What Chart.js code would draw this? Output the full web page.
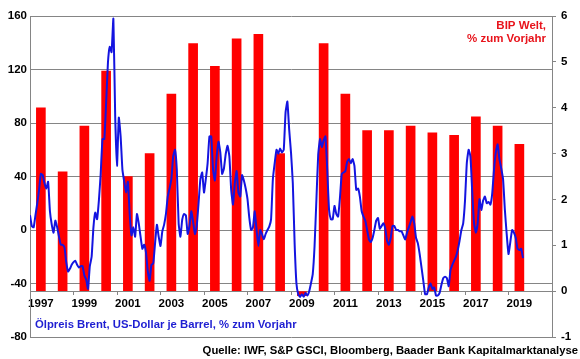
<!DOCTYPE html>
<html>
<head>
<meta charset="utf-8">
<script src="https://cdn.jsdelivr.net/npm/chart.js@4.4.1/dist/chart.umd.min.js"></script>
<style>
  html, body { margin: 0; padding: 0; background: #ffffff; }
  #wrap { position: relative; width: 580px; height: 359px; }
</style>
</head>
<body>
<div id="wrap"><canvas id="c" width="580" height="359"></canvas></div>
<script>
// ---------- DATA ----------
const years = [1997, 1998, 1999, 2000, 2001, 2002, 2003, 2004, 2005, 2006, 2007, 2008,
               2009, 2010, 2011, 2012, 2013, 2014, 2015, 2016, 2017, 2018, 2019];
// World GDP growth, % y/y (right axis)
const gdpGrowth = [4.0, 2.6, 3.6, 4.8, 2.5, 3.0, 4.3, 5.4, 4.9, 5.5, 5.6, 3.0,
                   -0.1, 5.4, 4.3, 3.5, 3.5, 3.6, 3.45, 3.4, 3.8, 3.6, 3.2];
// Brent oil price, US-Dollar per barrel, % y/y, monthly from Jan 1997 (left axis)
const brentStartYear = 1997;
const brentYoY = [
  11, 3, 2, 11, 20, 30, 42, 41, 35, 31, 36, 14,            // 1997
  4, -2, 7, 2, -5, -11, -11, -13, -24, -31, -29, -26,      // 1998
  -24, -23, -26, -28, -27, -27, -34, -37, -44, -27, -20, 2,// 1999
  13, 8, 22, 42, 68, 68, 95, 125, 137, 133, 158, 85,       // 2000
  48, 84, 70, 45, 36, 28, 36, 12, -4, 2, -5, 12,           // 2001
  5, -5, -14, -11, -17, -31, -38, -26, -25, -10, 4, -5,    // 2002
  -12, -1, 4, 12, 25, 31, 38, 55, 60, 45, 5, -5,           // 2003
  8, 12, 11, -3, 3, 14, 6, -3, 3, 20, 38, 43,              // 2004
  28, 38, 50, 70, 70, 45, 37, 55, 66, 58, 42, 46,          // 2005
  57, 63, 55, 30, 19, 35, 44, 28, 25, 41, 37, 31,          // 2006
  23, 9, 0, 2, 14, 0, -12, 0, -3, -7, -3, 0,               // 2007
  2.5, 8, 38, 50, 60, 57, 61, 58, 60, 88, 96, 75,          // 2008
  58, 35, -10, -40, -48, -50, -48, -50, -47, -49, -46, -40,// 2009
  -33, -12, 22, 56, 68, 62, 67, 70, 45, 15, 8, 8,          // 2010
  18, 12, 10, 24, 42, 43, 44, 51, 53, 50, 53, 48,          // 2011
  30, 31, 25, 14, 10, 7, 0, -7, -9, -6, 0, 7,              // 2012
  9, 1, 3, 5, 1, -8, -11, -6, 3, 3, 0, 0,                  // 2013
  -1, -1, -4, -7, -2, 2, 6, 10, 5, -6, -10, -18,           // 2014
  -28, -38, -48, -48, -43, -40, -44, -43, -49, -49, -47, -41, // 2015
  -36, -35, -36, -42, -30, -26, -23, -20, -15, -8, 0, 5,   // 2016
  22, 50, 60, 55, 28, 5, -2, 5, 23, 15, 22, 25,            // 2017
  20, 21, 19, 27, 45, 58, 64, 53, 46, 38, 15, -3,          // 2018
  -18, -9, 0, -2, -6, -14, -15, -14, -21                   // 2019
];
// axis ticks
const yearTickLabels = [1997, 1999, 2001, 2003, 2005, 2007, 2009, 2011, 2013, 2015, 2017, 2019];
const leftTicks = [-80, -40, 0, 40, 80, 120, 160];
const rightTicks = [-1, 0, 1, 2, 3, 4, 5, 6];
// texts
const gdpLabelLines = ['BIP Welt,', '% zum Vorjahr'];
const brentLabel = 'Ölpreis Brent, US-Dollar je Barrel, % zum Vorjahr';
const sourceLabel = 'Quelle: IWF, S&P GSCI, Bloomberg, Baader Bank Kapitalmarktanalyse';

// ---------- CHART ----------
const FONT_FAMILY = 'Arial, "Liberation Sans", sans-serif';
const tickFont = { family: FONT_FAMILY, size: 11.5, weight: 'bold' };
const GRID = '#858585';

const barPoints = years.map((y, i) => ({ x: y + 0.5, y: gdpGrowth[i] }));
const linePoints = brentYoY.map((v, i) => ({ x: brentStartYear + i / 12, y: v }));

const textPlugin = {
  id: 'texts',
  afterDraw(chart) {
    const ctx = chart.ctx;
    ctx.save();
    ctx.font = 'bold 11.5px ' + FONT_FAMILY;
    ctx.textBaseline = 'middle';
    ctx.fillStyle = '#e8141c';
    ctx.textAlign = 'right';
    ctx.fillText(gdpLabelLines[0], 546, 26);
    ctx.fillText(gdpLabelLines[1], 546, 39);
    ctx.fillStyle = '#1f1fd2';
    ctx.textAlign = 'left';
    ctx.font = 'bold 11.3px ' + FONT_FAMILY;
    ctx.fillText(brentLabel, 35, 325);
    ctx.fillStyle = '#000000';
    ctx.textAlign = 'right';
    ctx.fillText(sourceLabel, 578, 351);
    ctx.restore();
  }
};

new Chart(document.getElementById('c'), {
  type: 'bar',
  data: {
    datasets: [
      {
        type: 'line',
        label: brentLabel,
        data: linePoints,
        xAxisID: 'x',
        yAxisID: 'yL',
        borderColor: '#1414e0',
        borderWidth: 2,
        pointRadius: 0,
        tension: 0.15,
        fill: false,
        order: 0
      },
      {
        type: 'bar',
        label: 'BIP Welt',
        data: barPoints,
        xAxisID: 'x',
        yAxisID: 'yR',
        backgroundColor: '#ff0000',
        borderWidth: 0,
        barThickness: 9,
        order: 1
      }
    ]
  },
  options: {
    responsive: false,
    animation: false,
    events: [],
    layout: { padding: { top: 16, bottom: 22, left: 0, right: 0 } },
    plugins: { legend: { display: false }, tooltip: { enabled: false }, title: { display: false } },
    scales: {
      x: {
        type: 'linear',
        min: 1997, max: 2021,
        offset: false,
        position: { yR: 0 },
        afterBuildTicks: s => { s.ticks = yearTickLabels.map(y => ({ value: y + 0.5 })); },
        ticks: {
          autoSkip: false, maxRotation: 0, minRotation: 0,
          font: tickFont, color: '#000000', padding: 6,
          callback: v => String(Math.floor(v))
        },
        grid: { display: false, drawTicks: false, offset: false },
        border: { display: true, color: GRID, width: 1 }
      },
      x2: {
        type: 'linear',
        min: 1997, max: 2021,
        offset: false,
        position: { yR: 0 },
        afterBuildTicks: s => { s.ticks = yearTickLabels.map(y => ({ value: y + 2 })).filter(t => t.value <= 2021); },
        ticks: { display: false },
        grid: { display: true, drawOnChartArea: false, drawTicks: true, tickLength: 4, color: GRID, offset: false },
        border: { display: false }
      },
      yL: {
        type: 'linear',
        position: 'left',
        min: -80, max: 160,
        afterBuildTicks: s => { s.ticks = leftTicks.map(v => ({ value: v })); },
        ticks: { font: tickFont, color: '#000000', padding: 3 },
        grid: { color: GRID, drawTicks: false, lineWidth: 1 },
        border: { display: true, color: GRID, width: 1 },
        afterFit: s => { s.width = 30; }
      },
      yR: {
        type: 'linear',
        position: 'right',
        min: -1, max: 6,
        afterBuildTicks: s => { s.ticks = rightTicks.map(v => ({ value: v })); },
        ticks: { font: tickFont, color: '#000000', padding: 5 },
        grid: { drawOnChartArea: false, drawTicks: true, tickLength: 4, color: GRID },
        border: { display: true, color: GRID, width: 1 },
        afterFit: s => { s.width = 28; }
      }
    }
  },
  plugins: [textPlugin]
});
</script>
</body>
</html>
